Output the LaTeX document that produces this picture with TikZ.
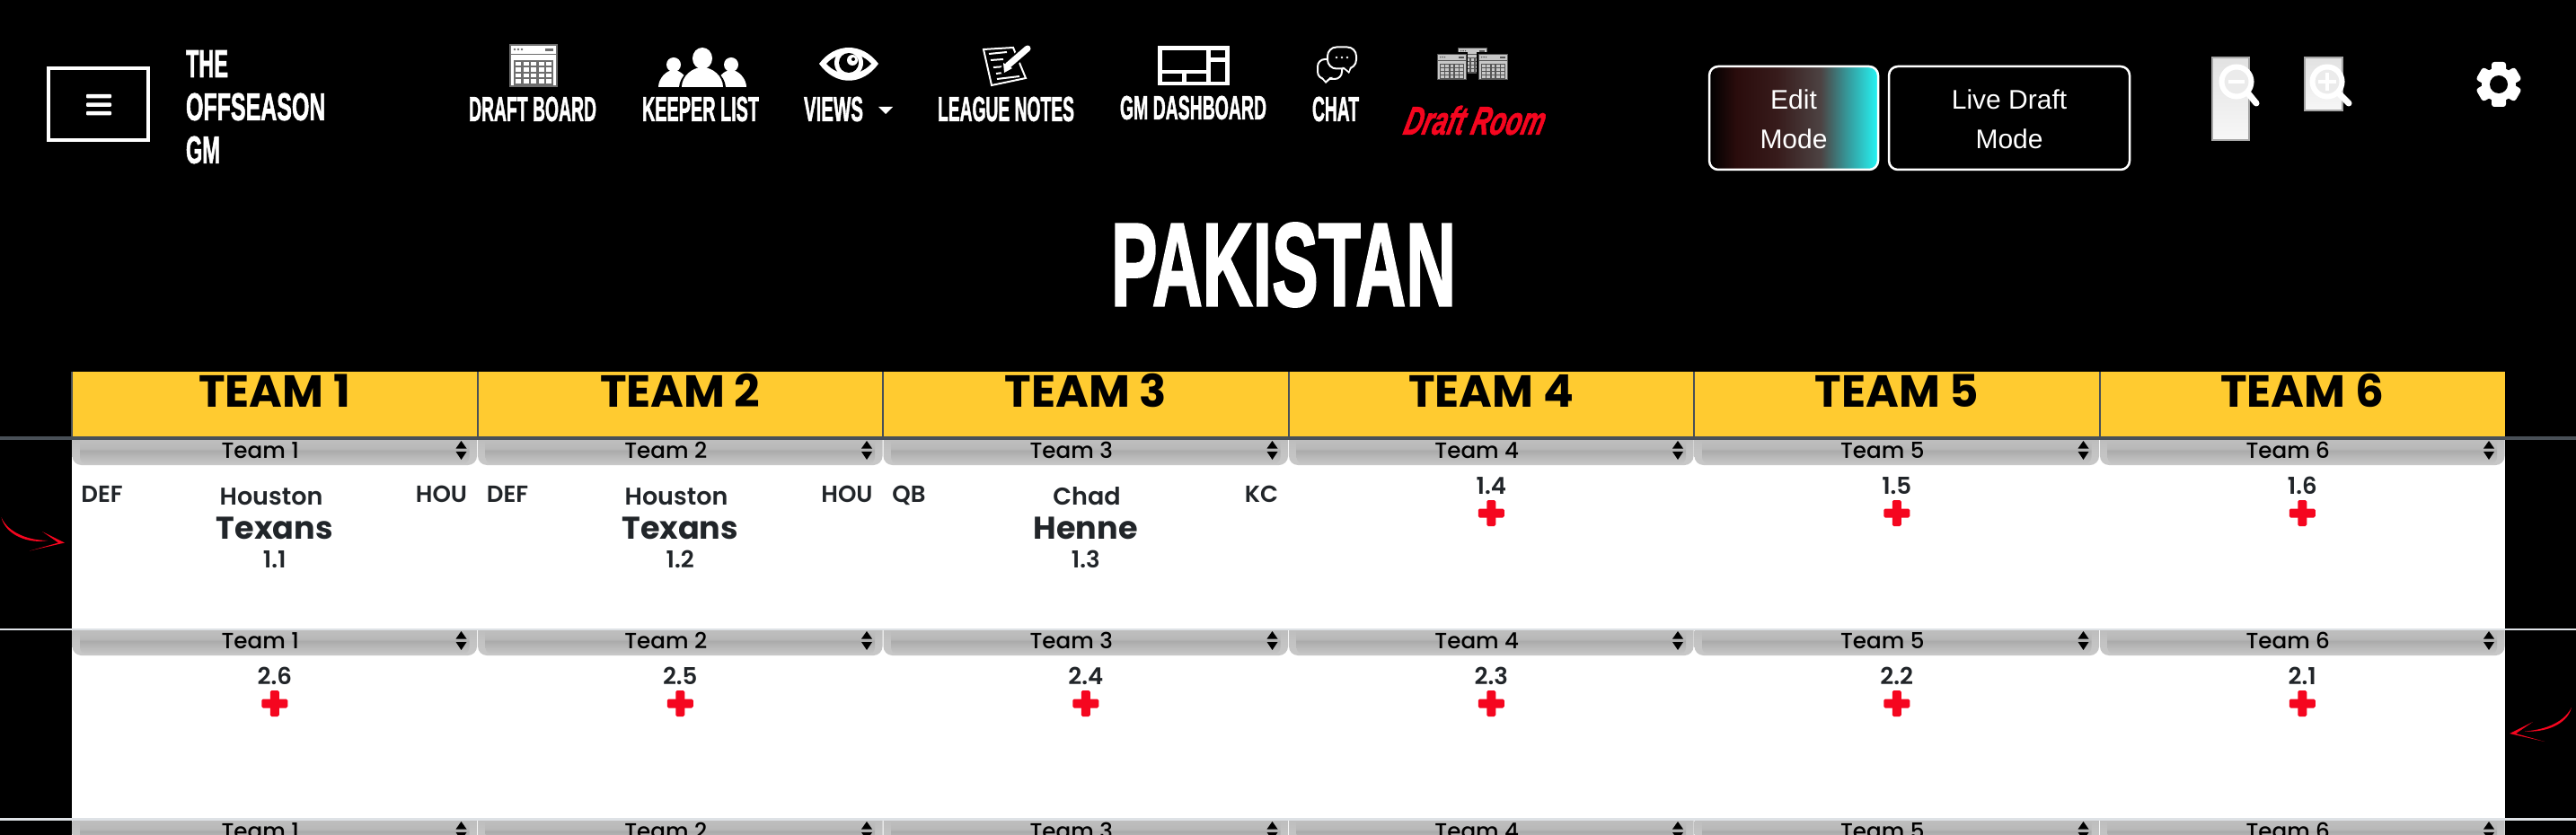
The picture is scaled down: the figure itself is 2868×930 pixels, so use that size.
\documentclass[tikz,border=0pt]{standalone}
\usepackage{fontspec}
\usepackage{graphicx}
\setmainfont{Liberation Sans}
\newfontfamily\popm{Poppins Medium}
\newfontfamily\pops{Poppins SemiBold}
\newfontfamily\popb{Poppins Bold}
\newfontfamily\disp[BoldFeatures={FakeBold=2},BoldItalicFeatures={FakeBold=2}]{Liberation Sans}
\newcommand{\dsp}{\disp\bfseries}
\definecolor{hdr}{HTML}{FFCB30}
\definecolor{ink}{HTML}{212529}
\definecolor{sepd}{HTML}{495057}
\definecolor{sepl}{HTML}{DEE2E6}
\definecolor{redm}{HTML}{F5061F}
\definecolor{icg}{HTML}{6E6E6E}
\definecolor{ega}{HTML}{2A0C0C}
\definecolor{egb}{HTML}{371B1B}
\definecolor{egc}{HTML}{4D4343}
\definecolor{egd}{HTML}{359A9C}
\definecolor{ege}{HTML}{25F5F5}
\definecolor{zga}{HTML}{F7F7F7}
\definecolor{zgb}{HTML}{E2E2E2}
\definecolor{sla}{HTML}{BEBEBE}
\definecolor{slb}{HTML}{B8B8B8}
\definecolor{slc}{HTML}{ABABAB}
\definecolor{sld}{HTML}{C8C8C8}
\pgfdeclareverticalshading{selband}{100bp}{color(0bp)=(sld);color(25bp)=(sld);color(53bp)=(slc);color(57bp)=(slb);color(75bp)=(sla);color(100bp)=(sla)}
\pgfdeclareverticalshading{selbase}{100bp}{color(0bp)=(sld);color(25bp)=(sld);color(75bp)=(sla);color(100bp)=(sla)}
\pgfdeclarehorizontalshading{editgrad}{100bp}{color(0bp)=(black);color(25bp)=(black);color(33bp)=(ega);color(45bp)=(egb);color(58bp)=(egc);color(66bp)=(egd);color(75bp)=(ege);color(100bp)=(ege)}
\pgfdeclareverticalshading{zoomgrad}{100bp}{color(0bp)=(zga);color(25bp)=(zga);color(75bp)=(zgb);color(100bp)=(zgb)}
\tikzset{
  cond/.style={inner sep=0pt,text=white},
  popt/.style={inner sep=0pt,anchor=base,text=ink},
  modebtn/.style={draw=white,line width=1.25pt,rounded corners=5pt},
}
\newcommand{\boardicon}[3]{% x, y, scale
  \begin{scope}[shift={(#1,#2)},scale=#3]
    \fill[icg] (0,0) rectangle (54,48);
    \fill[white] (2,2) rectangle (52,46);
    \fill[icg] (2,11) rectangle (52,12.5);
    \fill[icg] (5,18) rectangle (49,46);
    \foreach \ii in {0,1,2,3,4}{\foreach \jj in {0,1,2,3}{
      \fill[white] (7+8.5*\ii,20+6.5*\jj) rectangle (13+8.5*\ii,24.5+6.5*\jj);}}
    \foreach \ii in {0,1,2}{\fill[icg] (6+4*\ii,6) circle (1.3);}
    \fill[icg] (40,5) rectangle (49,8);
  \end{scope}}
\newcommand{\person}[5]{% cx, headcy, headrx, headry, x half width ... body top
  \fill[white] (#1,#2) ellipse (#3 and #4);
  \fill[white] (#1-#5,97) .. controls (#1-#5,#2+#4+8) and (#1-#5*0.5,#2+#4-2) .. (#1,#2+#4-2) .. controls (#1+#5*0.5,#2+#4-2) and (#1+#5,#2+#4+8) .. (#1+#5,97) -- cycle;}
\begin{document}
\begin{tikzpicture}[x=0.5pt,y=-0.5pt]
\useasboundingbox (0,0) rectangle (2868,930);
\clip (0,0) rectangle (2868,930);
\fill[black] (0,0) rectangle (2868,930);
% hamburger
\draw[white,line width=2pt] (54,76) rectangle (165,156);
\foreach \yy in {105,114.5,124}{\fill[white,rounded corners=0.5pt] (96,\yy) rectangle (124,\yy+4.5);}
% brand
\node[cond] (brand1) at (230.5,71) {\resizebox{23.5pt}{15pt}{\dsp THE}};
\node[cond] (brand2) at (284.7,119) {\resizebox{77.7pt}{15pt}{\dsp OFFSEASON}};
\node[cond] (brand3) at (226,167) {\resizebox{19pt}{15pt}{\dsp GM}};
% nav labels
\node[cond] (nav1) at (593,121.5) {\resizebox{71pt}{13.5pt}{\dsp DRAFT BOARD}};
\node[cond] (nav2) at (780,121.5) {\resizebox{65pt}{13.5pt}{\dsp KEEPER LIST}};
\node[cond] (nav3) at (928,121.5) {\resizebox{33pt}{13.5pt}{\dsp VIEWS}};
\fill[white] (978,119) -- (994,119) -- (986,127) -- cycle;
\node[cond] (nav4) at (1120,121.5) {\resizebox{76pt}{13.5pt}{\dsp LEAGUE NOTES}};
\node[cond] (nav5) at (1328.5,120) {\resizebox{81.5pt}{13pt}{\dsp GM DASHBOARD}};
\node[cond] (nav6) at (1487,121.5) {\resizebox{26pt}{13.5pt}{\dsp CHAT}};
\node[inner sep=0pt,text=redm,xslant=0.25] (nav7) at (1643,134) {\resizebox{78pt}{16pt}{\dsp\itshape Draft Room}};
% draft board icon
\boardicon{567}{49}{1}
% keeper list icon
\person{750}{72}{8}{8}{17}
\person{814}{72}{8}{8}{17}
\fill[black] (782,65) ellipse (14 and 14);
\fill[black] (756,97) .. controls (757,84) and (770,74) .. (782,74) .. controls (794,74) and (807,84) .. (808,97) -- cycle;
\person{782}{65}{11}{12}{23}
% eye icon
\fill[white] (912,71) .. controls (930,47) and (960,47) .. (978,71) .. controls (960,96) and (930,96) .. (912,71) -- cycle;
\fill[black] (920,71) .. controls (934,56) and (956,56) .. (970,71) .. controls (956,86) and (934,86) .. (920,71) -- cycle;
\fill[white] (945,70) circle (16);
\fill[black] (945,70) circle (11);
\fill[white] (949,67) circle (6);
\fill[black] (950,66) circle (2);
% notes icon
\draw[white,line width=1pt,line join=miter] (1095,55) -- (1128,53) -- (1142,87) -- (1104,95) -- cycle;
\foreach \aa/\bb/\cc/\dd in {1101/60/1121/58,1103/67/1117/66,1106/75/1120/74,1109/82/1124/80,1110/88/1135/85}{\draw[white,line width=1pt] (\aa,\bb) -- (\cc,\dd);}
\draw[black,line width=5.5pt,line cap=round] (1144,53) -- (1119,78);
\draw[white,line width=3.5pt,line cap=round] (1144,54) -- (1122,73);
\fill[white] (1117,70) -- (1127,76) -- (1118,81) -- cycle;
% dashboard icon
\fill[white] (1289,51) rectangle (1369,95);
\fill[black] (1294,56) rectangle (1343,78);
\fill[black] (1348,56) rectangle (1364,64);
\fill[black] (1348,69) rectangle (1364,91);
\fill[black] (1294,82) rectangle (1316,91);
\fill[black] (1321,82) rectangle (1343,91);
% chat icon
\draw[white,line width=1pt,fill=black,rounded corners=4pt] (1467,66) rectangle (1494,88);
\fill[white] (1470,86) -- (1476,93) -- (1484,86) -- cycle;
\fill[black] (1472,85.5) -- (1476,90) -- (1481,85.5) -- cycle;
\draw[white,line width=1pt,fill=black,rounded corners=5pt] (1478,52.5) rectangle (1510,76.5);
\fill[white] (1494,75) -- (1502,82) -- (1505,75) -- cycle;
\fill[black] (1496,74.5) -- (1501.5,79) -- (1503,74.5) -- cycle;
\foreach \xx in {1488,1494,1500}{\fill[white] (\xx,64) circle (1.3);}
% draft room icon
\boardicon{1623}{53}{0.61}
\fill[black] (1598,58) rectangle (1634,91);
\fill[black] (1644,58) rectangle (1680,91);
\boardicon{1600}{60}{0.61}
\boardicon{1646}{60}{0.61}
\fill[black,opacity=0.22] (1596,50) rectangle (1682,92);
% mode buttons
\path[shading=editgrad,rounded corners=5pt] (1903,74) rectangle (2091,189);
\draw[modebtn] (1903,74) rectangle (2091,189);
\draw[modebtn] (2103,74) rectangle (2371,189);
\foreach \nm/\xx/\yy/\tt in {ed1/1997/122/Edit,ed2/1997/166/Mode,lv1/2237/122/Live Draft,lv2/2237/166/Mode}{
  \node[inner sep=0pt,anchor=base,text=white,font=\fontsize{15}{17}\selectfont] (\nm) at (\xx,\yy) {\tt};}
% zoom buttons
\path[shading=zoomgrad] (2463,64) rectangle (2504,156);
\draw[black!35,line width=1pt] (2463,64) rectangle (2504,156);
\path[shading=zoomgrad] (2566,64) rectangle (2608,123);
\draw[black!35,line width=1pt] (2566,64) rectangle (2608,123);
\draw[white,line width=3pt,fill=black!8] (2490,91) circle (16.5);
\draw[white,line width=3.5pt,line cap=round] (2503,104) -- (2512,115);
\draw[white,line width=2pt] (2481,91) -- (2499,91);
\draw[white,line width=3pt,fill=black!8] (2591,91) circle (16.5);
\draw[white,line width=3.5pt,line cap=round] (2604,104) -- (2615,115);
\draw[white,line width=2pt] (2581,91) -- (2601,91);
\draw[white,line width=2pt] (2591,81) -- (2591,101);
% gear
\foreach \an in {30,90,150,210,270,330}{
  \begin{scope}[shift={(2782,94)},rotate=\an]
    \fill[white,rounded corners=1.5pt] (12,-8) rectangle (25,8);
  \end{scope}}
\fill[white] (2782,94) circle (19);
\fill[black] (2782,94) circle (10);
% title
\node[cond] (title) at (1429,295) {\resizebox{192pt}{46pt}{\dsp PAKISTAN}};
% grid
\fill[hdr] (80,414) rectangle (2789,487);
\fill[white] (80,490) rectangle (2789,930);
\fill[sepd] (0,486) rectangle (2868,490);
\fill[sepd] (79,414) rectangle (81,487);
\fill[sepl] (0,699.5) rectangle (2868,702);
\fill[sepl] (0,911) rectangle (2868,914);
\foreach \cc/\nn in {0/1,1/2,2/3,3/4,4/5,5/6}{
  \pgfmathsetmacro{\xl}{80+451.5*\cc}
  \pgfmathsetmacro{\xr}{\xl+451.5}
  \pgfmathsetmacro{\xm}{\xl+225.75}
  \ifnum\cc>0 \fill[sepd] (\xl-1,414) rectangle (\xl+1,487);\fi
  \node[popt,text=black,font=\fontsize{25}{27}\popb\selectfont] (head\nn) at (\xm,453) {TEAM \nn};
  \foreach \yt in {490,702,914}{
    \path[shading=selbase] (\xl+0.5,\yt) -- (\xr-0.5,\yt) [rounded corners=5pt] -- (\xr-0.5,\yt+28) -- (\xl+0.5,\yt+28) [sharp corners] -- (\xl+0.5,\yt) -- cycle;
    \path[shading=selband] (\xl+9,\yt) -- (\xr-9,\yt) [rounded corners=4pt] -- (\xr-9,\yt+27) -- (\xl+9,\yt+27) [sharp corners] -- (\xl+9,\yt) -- cycle;
    \fill[black] (\xr-24,\yt+9.5) -- (\xr-12,\yt+9.5) -- (\xr-18,\yt+1) -- cycle;
    \fill[black] (\xr-24,\yt+13) -- (\xr-12,\yt+13) -- (\xr-18,\yt+22) -- cycle;
    \node[popt,text=black,font=\fontsize{12.3}{14}\popm\selectfont] (sel\yt-\nn) at (\xm-16,\yt+20) {Team \nn};
  }
}
% row 1 filled cells
\foreach \cc/\pp/\fn/\ln/\tm/\nm/\fx in {0/DEF/Houston/Texans/HOU/1.1/302,1/DEF/Houston/Texans/HOU/1.2/753,2/QB/Chad/Henne/KC/1.3/1210}{
  \pgfmathsetmacro{\xl}{80+451.5*\cc}
  \pgfmathsetmacro{\xr}{\xl+451.5}
  \pgfmathsetmacro{\xm}{\xl+225.75}
  \node[popt,anchor=base west,font=\fontsize{13}{15}\pops\selectfont] (pos\cc) at (\xl+10,559) {\pp};
  \node[popt,anchor=base east,font=\fontsize{13}{15}\pops\selectfont] (tm\cc) at (\xr-11,559) {\tm};
  \node[popt,font=\fontsize{13.5}{15}\pops\selectfont] (fn\cc) at (\fx,562) {\fn};
  \node[popt,font=\fontsize{17.5}{19}\popb\selectfont] (ln\cc) at (\xm,600) {\ln};
  \node[popt,font=\fontsize{13}{15}\pops\selectfont] (pk\cc) at (\xm,632) {\nm};
}
% empty cells
\foreach \cc/\nm/\yy in {3/1.4/550,4/1.5/550,5/1.6/550,0/2.6/762,1/2.5/762,2/2.4/762,3/2.3/762,4/2.2/762,5/2.1/762}{
  \pgfmathsetmacro{\xm}{80+451.5*\cc+225.75}
  \node[popt,font=\fontsize{13}{15}\pops\selectfont] (pick\nm) at (\xm,\yy) {\nm};
  \fill[redm,rounded corners=0.8pt] (\xm-14.5,\yy+16.5) rectangle (\xm+14.5,\yy+26.5);
  \fill[redm,rounded corners=0.8pt] (\xm-5,\yy+7) rectangle (\xm+5,\yy+36);
}
% red hand-drawn arrows
\fill[redm] (1.5,576) .. controls (9,594) and (33,602) .. (53,602) .. controls (32,606) and (6,596) .. cycle;
\fill[redm] (47,592) -- (72,604.5) -- (33,613.5) -- (65,604.5) -- cycle;
\fill[redm] (2863,788) .. controls (2853,807) and (2830,813) .. (2811,814.5) .. controls (2832,816) and (2858,808) .. cycle;
\fill[redm] (2820,804) -- (2794,817) -- (2833,826) -- (2801,817) -- cycle;
\end{tikzpicture}
\end{document}
